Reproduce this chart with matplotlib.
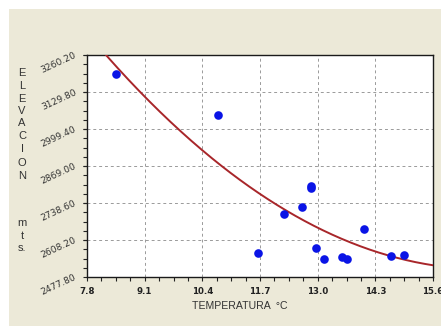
import numpy as np
import matplotlib
matplotlib.use("Agg")
import matplotlib.pyplot as plt
from matplotlib.patches import Rectangle
from matplotlib.ticker import MultipleLocator, FixedLocator

# Station temperature (°C) and elevation (m)
temperatura = [8.45, 10.75, 11.65, 12.25, 12.65, 12.85, 12.85, 12.96,
               13.15, 13.55, 13.65, 14.04, 14.65, 14.95]
elevacion = [3194.3, 3049.8, 2561.4, 2698.8, 2724.6, 2799.6, 2790.5, 2579.0,
             2541.3, 2547.3, 2541.3, 2648.1, 2551.9, 2555.4]

x_ticks = [7.8, 9.1, 10.4, 11.7, 13.0, 14.3, 15.6]
x_tick_labels = ["7.8", "9.1", "10.4", "11.7", "13.0", "14.3", "15.6"]
y_ticks = [2477.80, 2608.20, 2738.60, 2869.00, 2999.40, 3129.80, 3260.20]
y_tick_labels = ["2477.80", "2608.20", "2738.60", "2869.00", "2999.40",
                 "3129.80", "3260.20"]

BG = "#ece9d8"
W, H = 441, 326

fig = plt.figure(figsize=(W / 100, H / 100), dpi=100, facecolor=BG)
# thin white frame along top and left edges of the window
fig.patches.append(Rectangle((0, 1 - 9 / H), 1, 9 / H, transform=fig.transFigure,
                             facecolor="white", edgecolor="none", zorder=0))
fig.patches.append(Rectangle((0, 0), 9 / W, 1, transform=fig.transFigure,
                             facecolor="white", edgecolor="none", zorder=0))

ax = fig.add_axes([87 / W, 1 - 277 / H, (433 - 87) / W, (277 - 55) / H])
ax.set_facecolor("white")
ax.set_xlim(x_ticks[0], x_ticks[-1])
ax.set_ylim(y_ticks[0], y_ticks[-1])

# quadratic trend fitted to the observations
tx = np.asarray(temperatura)
ty = np.asarray(elevacion)
coef = np.polyfit(tx, ty, 2)
xs = np.linspace(x_ticks[0], x_ticks[-1], 300)
ax.plot(xs, np.polyval(coef, xs), color="#a8262a", lw=1.4, zorder=3)

ax.plot(tx, ty, "o", color="#0a14e6", markersize=6.2, markeredgewidth=0, zorder=4)

ax.xaxis.set_major_locator(FixedLocator(x_ticks))
ax.xaxis.set_minor_locator(MultipleLocator(1.3 / 4))
ax.yaxis.set_major_locator(FixedLocator(y_ticks))
ax.yaxis.set_minor_locator(MultipleLocator(130.4 / 4))
ax.set_xticklabels(x_tick_labels, fontsize=6.2, fontweight="bold", color="#222222",
                   family="DejaVu Sans")
ax.set_yticklabels(y_tick_labels, fontsize=6.6, color="#333333", family="DejaVu Sans")
for lab in ax.get_yticklabels():
    lab.set_rotation(25)
    lab.set_rotation_mode("anchor")
    lab.set_ha("right")
    lab.set_va("center")

ax.tick_params(which="both", direction="out", length=3, width=0.8, color="#222222")
ax.tick_params(axis="x", which="major", pad=4)
ax.tick_params(axis="y", which="major", pad=5)

ax.grid(True, which="major", color="#9a9a9a", linestyle=(0, (3, 3)), linewidth=0.7)
ax.set_axisbelow(True)
for s in ax.spines.values():
    s.set_color("#1a1a1a")
    s.set_linewidth(1.0)

fig.text(240 / W, 1 - 306 / H, "TEMPERATURA  °C", ha="center", va="center",
         fontsize=7.6, color="#333333", family="Liberation Sans")

# vertical stacked axis title
letters = ["E", "L", "E", "V", "A", "C", "I", "O", "N", "m", "t", "s."]
ypix = [73, 86, 99, 111, 123, 136, 149, 163, 176, 223, 236, 248]
for ch, yp in zip(letters, ypix):
    fig.text(22 / W, 1 - yp / H, ch, ha="center", va="center",
             fontsize=8, color="#333333", family="Liberation Sans")

fig.savefig("out.png", dpi=100, facecolor=BG)
